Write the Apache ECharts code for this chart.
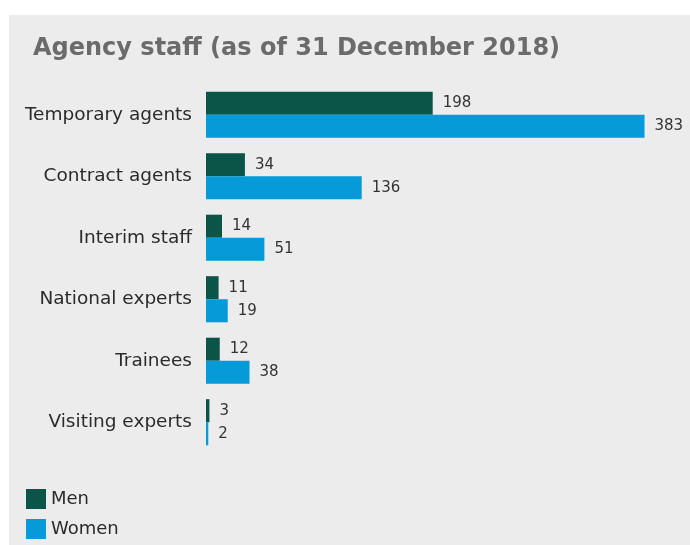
<!DOCTYPE html>
<html><head><meta charset="utf-8">
<script src="https://cdn.jsdelivr.net/npm/echarts@6/dist/echarts.min.js"></script>
<style>html,body{margin:0;padding:0;background:#fff}#c{width:690px;height:545px}</style>
</head><body><div id="c"></div>
<script>
const categories = ["Temporary agents","Contract agents","Interim staff","National experts","Trainees","Visiting experts"];
const men = [198, 34, 14, 11, 12, 3];
const women = [383, 136, 51, 19, 38, 2];
const seriesNames = ["Men","Women"];
const titleText = "Agency staff (as of 31 December 2018)";

const chart = echarts.init(document.getElementById('c'));
const lbl = {show:true, position:'right', distance:10, color:'#333', fontFamily:'DejaVu Sans', fontSize:15};
const legendCommon = {orient:'vertical', left:21, itemWidth:20, itemHeight:20, itemGap:10, icon:'rect',
    textStyle:{fontFamily:'DejaVu Sans', fontSize:18, color:'#2b2b2b', padding:[0,0,0,0]}};
chart.setOption({
  backgroundColor:'#fff',
  animation:false,
  graphic:[{type:'rect', z:-10, shape:{x:9,y:15,width:681,height:530}, style:{fill:'#ececec'}}],
  title:{text:titleText, left:28, top:32, textStyle:{fontFamily:'DejaVu Sans', fontWeight:'bold', fontSize:24, color:'#6b6b6b'}},
  legend:[
    Object.assign({}, legendCommon, {top:484, data:[seriesNames[0]]}),
    Object.assign({}, legendCommon, {top:514, data:[seriesNames[1]]})
  ],
  grid:{left:206, top:84, width:458, height:369},
  xAxis:{type:'value', min:0, max:400, show:false},
  yAxis:{type:'category', inverse:true, data:categories, axisLine:{show:false}, axisTick:{show:false},
    axisLabel:{margin:14, fontFamily:'DejaVu Sans', fontSize:18.5, color:'#2b2b2b'}},
  series:[
    {name:seriesNames[0], type:'bar', data:men, barCategoryGap:'25%', barGap:'0%', itemStyle:{color:'#0a5547'}, label:lbl},
    {name:seriesNames[1], type:'bar', data:women, barCategoryGap:'25%', barGap:'0%', itemStyle:{color:'#069ad8'}, label:lbl}
  ]
});
</script></body></html>
